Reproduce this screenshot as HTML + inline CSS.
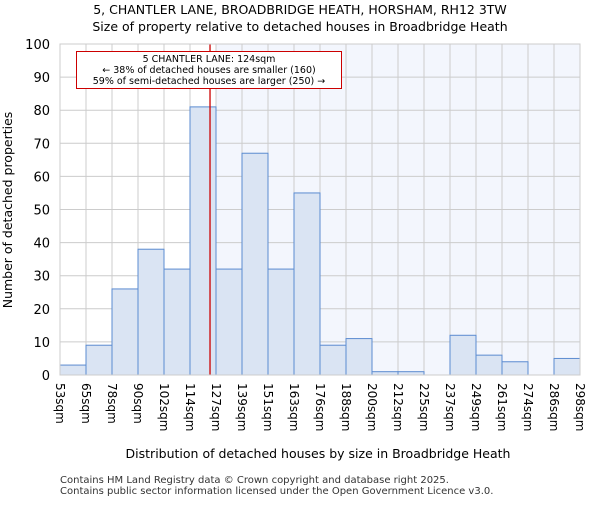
<!DOCTYPE html>
<html><head><meta charset="utf-8"><style>body{margin:0;background:#fff}svg{font-family:"DejaVu Sans","Liberation Sans",sans-serif}</style></head>
<body>
<svg id="c" width="600" height="500"></svg>
<script>
const categories=["53sqm","65sqm","78sqm","90sqm","102sqm","114sqm","127sqm","139sqm","151sqm","163sqm","176sqm","188sqm","200sqm","212sqm","225sqm","237sqm","249sqm","261sqm","274sqm","286sqm","298sqm"];
const values=[3,9,26,38,32,81,32,67,32,55,9,11,1,1,0,12,6,4,0,5];
const yTicks=[0,10,20,30,40,50,60,70,80,90,100];
const markerBin=5.77;
const shadeFromBin=6;
const svg=document.getElementById('c');const NS='http://www.w3.org/2000/svg';
const L=60,R=580,T=44,B=375;
const bw=(R-L)/values.length;
const x=i=>L+i*bw, y=v=>B-(B-T)*v/100;
function el(t,a,name,txt){const e=document.createElementNS(NS,t);for(const k in a)e.setAttribute(k,a[k]);


if(txt!=null)e.textContent=txt;svg.appendChild(e);return e;}
el('rect',{x:x(shadeFromBin),y:T,width:R-x(shadeFromBin),height:B-T,fill:'#f3f6fd'},'highlight-region');
yTicks.forEach(v=>{el('line',{x1:L,x2:R,y1:y(v),y2:y(v),stroke:'#cccccc'},'grid-h');
el('text',{x:L-10,y:y(v)+5,'text-anchor':'end','font-size':13},'y-tick-label',v);});
categories.forEach((c,i)=>{el('line',{x1:x(i),x2:x(i),y1:T,y2:B,stroke:'#cccccc'},'grid-v');
el('text',{x:x(i)-4,y:B+8,'font-size':12,transform:`rotate(90 ${x(i)-4} ${B+8})`},'x-tick-label',c);});
values.forEach((v,i)=>{el('rect',{x:x(i),y:y(v),width:bw,height:B-y(v),fill:'#dae4f3',stroke:'#5b8bd0','stroke-width':1},'bar');});
el('line',{x1:x(markerBin),x2:x(markerBin),y1:T,y2:B,stroke:'#cc0000','stroke-width':1.3},'marker-line');
el('rect',{x:76.5,y:51.5,width:265,height:37,fill:'#fff',stroke:'#cc0000'},'annotation-box');
['5 CHANTLER LANE: 124sqm','← 38% of detached houses are smaller (160)','59% of semi-detached houses are larger (250) →'].forEach((s,i)=>
el('text',{x:209,y:62+i*11,'text-anchor':'middle','font-size':9.5,textLength:i==0?null:null},'annotation-line',s));
el('rect',{x:L,y:T,width:R-L,height:B-T,fill:'none',stroke:'#cccccc'},'plot-border');
el('text',{x:300,y:14,'text-anchor':'middle','font-size':12.5},'chart-title','5, CHANTLER LANE, BROADBRIDGE HEATH, HORSHAM, RH12 3TW');
el('text',{x:300,y:31,'text-anchor':'middle','font-size':12.5},'chart-subtitle','Size of property relative to detached houses in Broadbridge Heath');
el('text',{x:318,y:458,'text-anchor':'middle','font-size':12.5},'x-axis-title','Distribution of detached houses by size in Broadbridge Heath');
el('text',{x:12,y:210,'text-anchor':'middle','font-size':12.5,transform:'rotate(-90 12 210)'},'y-axis-title','Number of detached properties');
el('text',{x:60,y:483,'font-size':10,fill:'#333'},'footer-1','Contains HM Land Registry data © Crown copyright and database right 2025.');
el('text',{x:60,y:494,'font-size':10,fill:'#333'},'footer-2','Contains public sector information licensed under the Open Government Licence v3.0.');
</script>
</body></html>
